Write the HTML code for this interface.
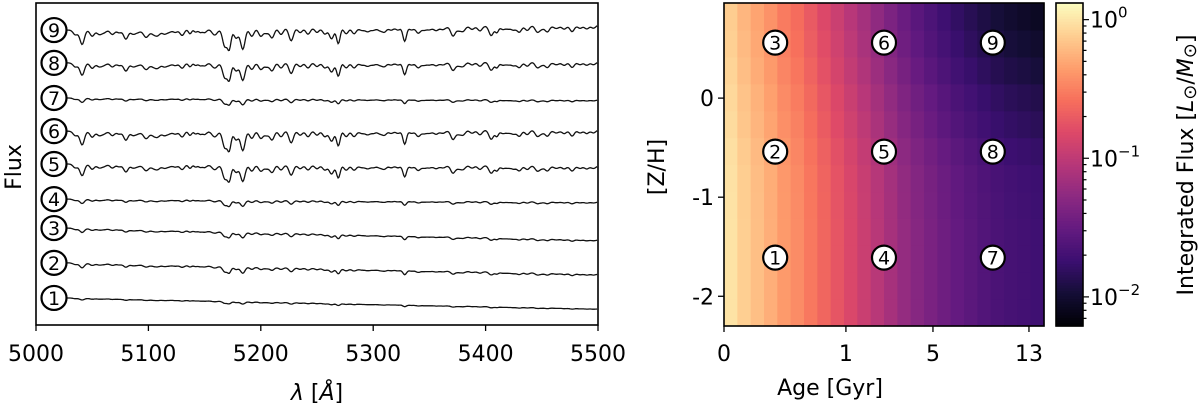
<!DOCTYPE html>
<html><head><meta charset="utf-8"><style>
body{margin:0;background:#fff}
svg{display:block;font-family:"DejaVu Sans","Liberation Sans",sans-serif}
</style></head><body>
<svg id="fig" width="1200" height="410" viewBox="0 0 1200 410" xmlns="http://www.w3.org/2000/svg">
<g id="left"></g>
<g id="right"></g>
</svg>
<script>
// ---- spectra data ----
const specIds = [1,2,3,4,5,6,7,8,9];
const specStart = [8.4,19.3,30.1,39.1,50.0,60.2,70.5,81.4,91.6];
const specEnd = [5.0,15.8,26.4,38.2,49.4,60.6,69.9,81.7,93.2];
const specStrength = [0.12,0.32,0.28,0.3,0.8,0.95,0.3,0.85,1.0];
const lineWave = [5035,5041,5050,5056,5060,5068,5074,5080,5086,5090,5098,5104,5108,5114,5118,5124,5130,5137,5142,5146,5150,5159,5168,5172,5178,5184,5192,5200,5205,5210,5218,5227,5235,5242,5250,5257,5263,5269,5276,5283,5290,5295,5300,5306,5310,5316,5322,5328,5334,5340,5345,5350,5356,5362,5371,5376,5380,5388,5395,5405,5410,5415,5420,5425,5430,5437,5446,5450,5455,5463,5470,5477,5484,5490,5496];
const lineDepth = [1.5,4.5,2,1.2,1,1.5,1,3,1.2,1,2.5,1,2,1.2,1,1,2,1.5,1,1,1.2,2,5.5,6,3,6.5,2.5,2.5,1.5,3,2,4,1.5,2,1.5,2,3.5,5,2,2,1,1.2,1,1,1.5,1,1,4.5,1,2,1,1,1.2,1,3,1.2,1.5,1,1.5,3,2,1,1,1.2,2,1.5,2,1,2,1,1.2,2,1,1.2,1];
const lineWidth = [2,2,2,2,2.5,2,2,2,2,2.5,2.5,2,2.5,2,2.5,2,2,1.5,1.5,1.5,2,2.5,2,1.6,2,2,2,2,2,2,2,2,2,2,2,2,2,1.6,2,2,2.5,2,2.5,2,2,2,2,1.6,2,2,2,2.5,2,2.5,2,2,2,2,2,2,1.5,2,2.5,2,2,2,2,2,2,2.5,2,2,2,2,2];
const xTicksL = [5000,5100,5200,5300,5400,5500];
// ---- heatmap data ----
const colLogFlux = [-0.02,-0.12,-0.2,-0.28,-0.38,-0.45,-0.55,-0.65,-0.75,-0.85,-0.95,-1.05,-1.15,-1.25,-1.33,-1.4,-1.47,-1.53,-1.58,-1.63,-1.67,-1.7,-1.72,-1.74];
const rowOffset = [0.02,0.02,0.02,0.02,0.01,0,-0.04,-0.1,-0.15,-0.22,-0.28,-0.33];
const ageTickLabels = ["0","1","5","13"];
const ageTickFrac = [0,0.381,0.653,0.953];
const zTicks = [0,-1,-2];
const markerIds = [1,2,3,4,5,6,7,8,9];
const markerAgeFrac = [0.16,0.16,0.16,0.5,0.5,0.5,0.84,0.84,0.84];
const markerZ = [-1.61,-0.54,0.56,-1.61,-0.54,0.56,-1.61,-0.54,0.56];
const cbarTicks = [0,-1,-2];

const NS="http://www.w3.org/2000/svg";
function mk(parent,tag,attrs,text){const e=document.createElementNS(NS,tag);for(const k in attrs)e.setAttribute(k,attrs[k]);if(text!==undefined)e.textContent=text;parent.appendChild(e);return e;}

// ---- left panel ----
const L=document.getElementById('left');
const lx0=36,lx1=598,ly0=3,ly1=325;
const xs=w=>lx0+(w-5000)/500*(lx1-lx0);
const ys=f=>ly1-f/100*(ly1-ly0);
specIds.forEach((id,i)=>{
  let d="";
  for(let w=5028;w<=5500;w+=0.8){
    const t=(w-5028)/472;
    let f=specStart[i]+(specEnd[i]-specStart[i])*t;
    let a=0;
    for(let k=0;k<lineWave.length;k++){const z=(w-lineWave[k])/lineWidth[k];a+=lineDepth[k]*Math.exp(-0.5*z*z);}
    f-=a*specStrength[i]*1.0;
    d+=(d?"L":"M")+xs(w).toFixed(1)+","+ys(f).toFixed(1);
  }
  const p=mk(L,'path',{d:d,fill:'none',stroke:'#111','stroke-width':1.3});
  
  
  const cy=ys(specStart[i]);
  const c=mk(L,'ellipse',{cx:54,cy:cy,rx:12.5,ry:12,fill:'#fff',stroke:'#000','stroke-width':2.2});
  
  
  const t=mk(L,'text',{x:54,y:cy+7,'text-anchor':'middle','font-size':19},String(id));
  
  
});
const lframe=mk(L,'rect',{x:lx0,y:ly0,width:lx1-lx0,height:ly1-ly0,fill:'none',stroke:'#000','stroke-width':1.6});


xTicksL.forEach(v=>{
  mk(L,'line',{x1:xs(v),x2:xs(v),y1:ly1,y2:ly1+6,stroke:'#000','stroke-width':1.3});
  const t=mk(L,'text',{x:xs(v),y:361,'text-anchor':'middle','font-size':22},String(v));
  
  
});
</script>
<script>
(function(){
const R=document.getElementById('right');
const hx0=724,hx1=1044,hy0=3,hy1=326;
const zTop=0.96,zBot=-2.30;
const zy=z=>hy0+(zTop-z)/(zTop-zBot)*(hy1-hy0);
const fx=f=>hx0+f*(hx1-hx0);
const vmin=-2.21,vmax=0.12;
const magma=["#000004","#140e36","#3b0f70","#641a80","#8c2981","#b73779","#de4968","#f7705c","#fe9f6d","#fecf92","#fcfdbf"];
function hex(h){return [1,3,5].map(i=>parseInt(h.substr(i,2),16));}
function cmap(t){t=Math.max(0,Math.min(1,t));const s=t*10,i=Math.min(9,Math.floor(s)),u=s-i;const a=hex(magma[i]),b=hex(magma[i+1]);return "rgb("+a.map((v,k)=>Math.round(v+(b[k]-v)*u)).join(",")+")";}
const nc=colLogFlux.length,nr=rowOffset.length;
for(let r=0;r<nr;r++){for(let c=0;c<nc;c++){
  const f=(c+0.5)/nc;
  const v=colLogFlux[c]+rowOffset[r]*(0.3+0.7*f);
  const x=fx(c/nc),w=(hx1-hx0)/nc;
  const yb=hy1-r*(hy1-hy0)/nr,h=(hy1-hy0)/nr;
  const e=mk(R,'rect',{x:x.toFixed(2),y:(yb-h).toFixed(2),width:(w+0.6).toFixed(2),height:(h+0.6).toFixed(2),fill:cmap((v-vmin)/(vmax-vmin))});
  
  
}}
const fr=mk(R,'rect',{x:hx0,y:hy0,width:hx1-hx0,height:hy1-hy0,fill:'none',stroke:'#000','stroke-width':1.6});


markerIds.forEach((id,i)=>{
  const cx=fx(markerAgeFrac[i]),cy=zy(markerZ[i]);
  const c=mk(R,'circle',{cx:cx,cy:cy,r:12,fill:'#fff',stroke:'#000','stroke-width':2.2});
  
  
  const t=mk(R,'text',{x:cx,y:cy+7,'text-anchor':'middle','font-size':19},String(id));
  
  
});
ageTickLabels.forEach((lab,i)=>{
  const x=fx(ageTickFrac[i]);
  mk(R,'line',{x1:x,x2:x,y1:hy1,y2:hy1+6,stroke:'#000','stroke-width':1.3});
  const t=mk(R,'text',{x:x,y:361,'text-anchor':'middle','font-size':22},lab);
  
  
});
zTicks.forEach(z=>{
  const y=zy(z);
  mk(R,'line',{x1:hx0-6,x2:hx0,y1:y,y2:y,stroke:'#000','stroke-width':1.3});
  const t=mk(R,'text',{x:hx0-10,y:y+8,'text-anchor':'end','font-size':22},String(z));
  
  
});
// colorbar
const cx0=1056,cx1=1083;
const cy=v=>hy0+(vmax-v)/(vmax-vmin)*(hy1-hy0);
for(let i=0;i<120;i++){
  const v0=vmax-(vmax-vmin)*i/120,v1=vmax-(vmax-vmin)*(i+1)/120;
  const e=mk(R,'rect',{x:cx0,y:cy(v0).toFixed(2),width:cx1-cx0,height:(cy(v1)-cy(v0)+0.6).toFixed(2),fill:cmap(((v0+v1)/2-vmin)/(vmax-vmin))});
  
  
}
const cf=mk(R,'rect',{x:cx0,y:hy0,width:cx1-cx0,height:hy1-hy0,fill:'none',stroke:'#000','stroke-width':1.6});


for(let d=-3;d<=0;d++){for(let m=1;m<10;m++){
  const v=d+Math.log10(m);if(v<vmin||v>vmax)continue;
  const y=cy(v);
  mk(R,'line',{x1:cx1,x2:cx1+(m==1?6:3.5),y1:y,y2:y,stroke:'#000','stroke-width':1.2});
}}
cbarTicks.forEach(d=>{
  const t=mk(R,'text',{x:1090,y:cy(d)+8,'font-size':22});
  
  
  mk(t,'tspan',{},"10");
  mk(t,'tspan',{dy:-10,'font-size':15},d===0?"0":"\u2212"+(-d));
});
})();
</script>
<script>
const F=document.getElementById('fig');
function lab(attrs,html,name){const g=document.createElementNS("http://www.w3.org/2000/svg",'text');for(const k in attrs)g.setAttribute(k,attrs[k]);g.innerHTML=html;F.appendChild(g);}
lab({x:317,y:400,'text-anchor':'middle','font-size':22},'<tspan font-style="italic">λ</tspan> [<tspan font-style="italic">Å</tspan>]','x-axis-title-wavelength');
lab({x:0,y:0,'text-anchor':'middle','font-size':22,transform:'translate(21,167) rotate(-90)'},'Flux','y-axis-title-flux');
lab({x:830,y:395,'text-anchor':'middle','font-size':22},'Age [Gyr]','x-axis-title-age');
lab({x:0,y:0,'text-anchor':'middle','font-size':22,transform:'translate(664,167) rotate(-90)'},'[Z/H]','y-axis-title-metallicity');
lab({x:0,y:0,'text-anchor':'middle','font-size':22,transform:'translate(1193,165) rotate(-90)'},'Integrated Flux [<tspan font-style="italic">L</tspan><tspan font-size="18" dy="3">⊙</tspan><tspan dy="-3">/</tspan><tspan font-style="italic">M</tspan><tspan font-size="18" dy="3">⊙</tspan><tspan dy="-3">]</tspan>','colorbar-title');
</script>
</body></html>
